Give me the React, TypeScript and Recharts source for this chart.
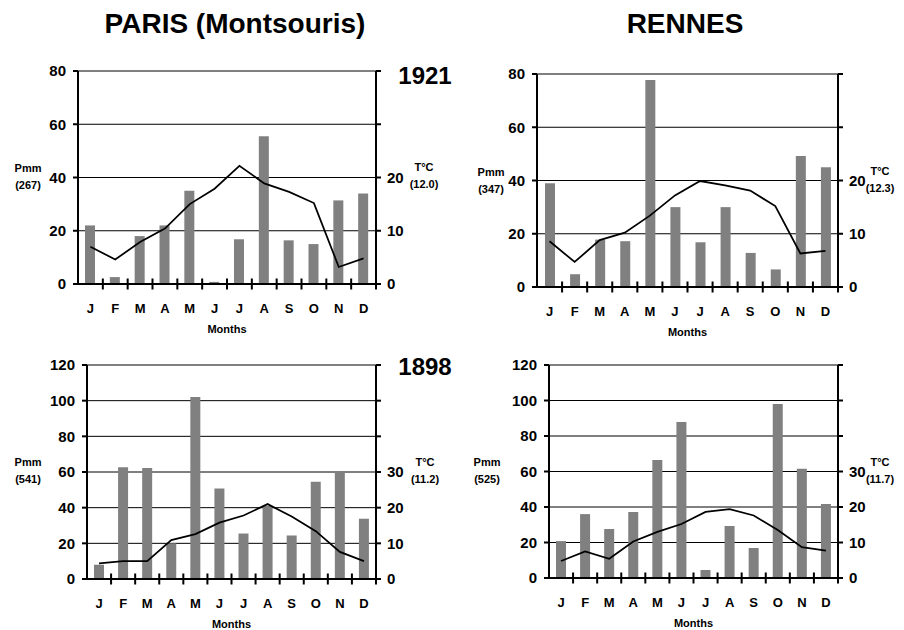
import React from "react";
import { Bar, CartesianGrid, ComposedChart, Line, XAxis, YAxis } from "recharts";

const months = ["J", "F", "M", "A", "M", "J", "J", "A", "S", "O", "N", "D"];

const paris1921Precip = [22, 2.6, 18, 22, 35, 0.8, 16.8, 55.5, 16.4, 15, 31.4, 34];
const paris1921Temp = [7.0, 4.6, 7.9, 10.4, 15.0, 17.9, 22.2, 18.9, 17.3, 15.2, 3.2, 4.8];
const rennes1921Precip = [39, 4.8, 17.8, 17.2, 77.7, 30, 16.8, 30, 12.8, 6.6, 49.2, 45];
const rennes1921Temp = [8.6, 4.7, 8.8, 10.2, 13.4, 17.2, 19.9, 19.1, 18.1, 15.2, 6.3, 6.8];
const paris1898Precip = [8, 62.7, 62.2, 20, 102, 50.8, 25.5, 41, 24.4, 54.6, 60.4, 33.8];
const paris1898Temp = [4.4, 5.0, 5.0, 10.9, 12.6, 15.8, 17.8, 21.0, 17.5, 13.4, 7.6, 5.0];
const rennes1898Precip = [20.8, 36, 27.6, 37.2, 66.5, 87.9, 4.5, 29.3, 16.9, 98, 61.6, 41.7];
const rennes1898Temp = [4.8, 7.5, 5.4, 10.3, 13.0, 15.2, 18.6, 19.4, 17.6, 13.5, 8.7, 7.7];

const ticks80 = [0, 20, 40, 60, 80];
const ticks120 = [0, 20, 40, 60, 80, 100, 120];
const tTicks40 = [0, 10, 20, 30, 40];
const tTicks60 = [0, 10, 20, 30, 40, 50, 60];

const font = '"Liberation Sans", Arial, sans-serif';
const tickFont = { fontSize: 15, fontWeight: "bold", fill: "#000", fontFamily: font };

// month label plus the small tick crossing the axis on the boundary to its right
function makeMonthTick(band: number) {
  return (props: any) => {
    const x = Number(props.x);
    const y = Number(props.y);
    const bx = x + band / 2;
    return (
      <g>
        <rect x={bx - 1} y={y - 25.5} width={2} height={11} fill="#000" />
        <text x={x} y={y} dy="0.71em" textAnchor="middle" fontSize={13} fontWeight="bold" fontFamily={font} fill="#000">
          {props.payload.value}
        </text>
      </g>
    );
  };
}

type PanelProps = {
  precip: number[];
  temp: number[];
  left: number;
  top: number;
  plotW: number;
  plotH: number;
  pTicks: number[];
  tTicks: number[];
  tLabelMax: number;
};

function Panel({ precip, temp, left, top, plotW, plotH, pTicks, tTicks, tLabelMax }: PanelProps) {
  const data = months.map((m, i) => ({ month: m, p: precip[i], t: temp[i] }));
  return (
    <div style={{ position: "absolute", left: left - 60, top: top - 10 }}>
      <ComposedChart width={plotW + 120} height={plotH + 62} data={data} margin={{ top: 10, right: 0, bottom: 0, left: 0 }}>
        <CartesianGrid xAxisId="m" yAxisId="p" vertical={false} stroke="#000" strokeWidth={1} />
        <XAxis
          xAxisId="m"
          dataKey="month"
          height={52}
          interval={0}
          tickSize={0}
          tickMargin={20}
          tickLine={false}
          axisLine={{ stroke: "#000", strokeWidth: 2 }}
          tick={makeMonthTick(plotW / months.length)}
          label={{ value: "Months", position: "insideBottom", offset: 3, fontSize: 11, fontWeight: "bold", fill: "#000", fontFamily: font }}
        />
        <YAxis
          yAxisId="p"
          orientation="left"
          width={60}
          domain={[0, pTicks[pTicks.length - 1]]}
          ticks={pTicks}
          interval={0}
          tickSize={5}
          tickMargin={7}
          tickLine={{ stroke: "#000", strokeWidth: 2 }}
          tick={tickFont}
          axisLine={{ stroke: "#000", strokeWidth: 2 }}
        />
        <YAxis
          yAxisId="t"
          orientation="right"
          width={60}
          domain={[0, tTicks[tTicks.length - 1]]}
          ticks={tTicks}
          interval={0}
          tickSize={5}
          tickMargin={6}
          tickLine={{ stroke: "#000", strokeWidth: 2 }}
          tick={tickFont}
          tickFormatter={(v: number) => (v <= tLabelMax ? String(v) : "")}
          axisLine={{ stroke: "#000", strokeWidth: 2 }}
        />
        <Bar xAxisId="m" yAxisId="p" dataKey="p" fill="#808080" barSize={10} isAnimationActive={false} />
        <Line xAxisId="m" yAxisId="t" dataKey="t" type="linear" stroke="#000" strokeWidth={1.75} dot={false} isAnimationActive={false} />
      </ComposedChart>
    </div>
  );
}

function Text({ x, y, size, children }: { x: number; y: number; size: number; children: React.ReactNode }) {
  return (
    <div
      style={{
        position: "absolute",
        left: x - 150,
        top: y - size * 0.49,
        width: 300,
        textAlign: "center",
        fontFamily: font,
        fontWeight: "bold",
        fontSize: size,
        lineHeight: 1,
        color: "#000",
        whiteSpace: "nowrap"
      }}
    >
      {children}
    </div>
  );
}

function AxisTitle({ x, y, top, bottom }: { x: number; y: number; top: string; bottom: string }) {
  return (
    <div
      style={{
        position: "absolute",
        left: x - 30,
        top: y - 8.4,
        width: 60,
        textAlign: "center",
        fontFamily: font,
        fontWeight: "bold",
        fontSize: 11,
        lineHeight: "17px",
        color: "#000"
      }}
    >
      <div>{top}</div>
      <div>{bottom}</div>
    </div>
  );
}

export default function App() {
  return (
    <div style={{ position: "absolute", left: 0, top: 0, width: 904, height: 630, background: "#fff", overflow: "hidden" }}>
      <Text x={235} y={23.5} size={28}>PARIS (Montsouris)</Text>
      <Text x={685} y={23.5} size={28}>RENNES</Text>
      <Text x={425} y={76} size={24}>1921</Text>
      <Text x={425} y={367} size={24}>1898</Text>

      <Panel precip={paris1921Precip} temp={paris1921Temp} left={78} top={71} plotW={298} plotH={213} pTicks={ticks80} tTicks={tTicks40} tLabelMax={20} />
      <Panel precip={rennes1921Precip} temp={rennes1921Temp} left={537} top={74} plotW={301} plotH={213} pTicks={ticks80} tTicks={tTicks40} tLabelMax={20} />
      <Panel precip={paris1898Precip} temp={paris1898Temp} left={87} top={365} plotW={289} plotH={214} pTicks={ticks120} tTicks={tTicks60} tLabelMax={30} />
      <Panel precip={rennes1898Precip} temp={rennes1898Temp} left={549} top={365} plotW={289} plotH={213} pTicks={ticks120} tTicks={tTicks60} tLabelMax={30} />

      <AxisTitle x={28} y={168} top="Pmm" bottom="(267)" />
      <AxisTitle x={424} y={167} top="T°C" bottom="(12.0)" />
      <AxisTitle x={491} y={172} top="Pmm" bottom="(347)" />
      <AxisTitle x={880} y={171} top="T°C" bottom="(12.3)" />
      <AxisTitle x={28} y={462} top="Pmm" bottom="(541)" />
      <AxisTitle x={425} y={462} top="T°C" bottom="(11.2)" />
      <AxisTitle x={487} y={462} top="Pmm" bottom="(525)" />
      <AxisTitle x={880} y={462} top="T°C" bottom="(11.7)" />
    </div>
  );
}
